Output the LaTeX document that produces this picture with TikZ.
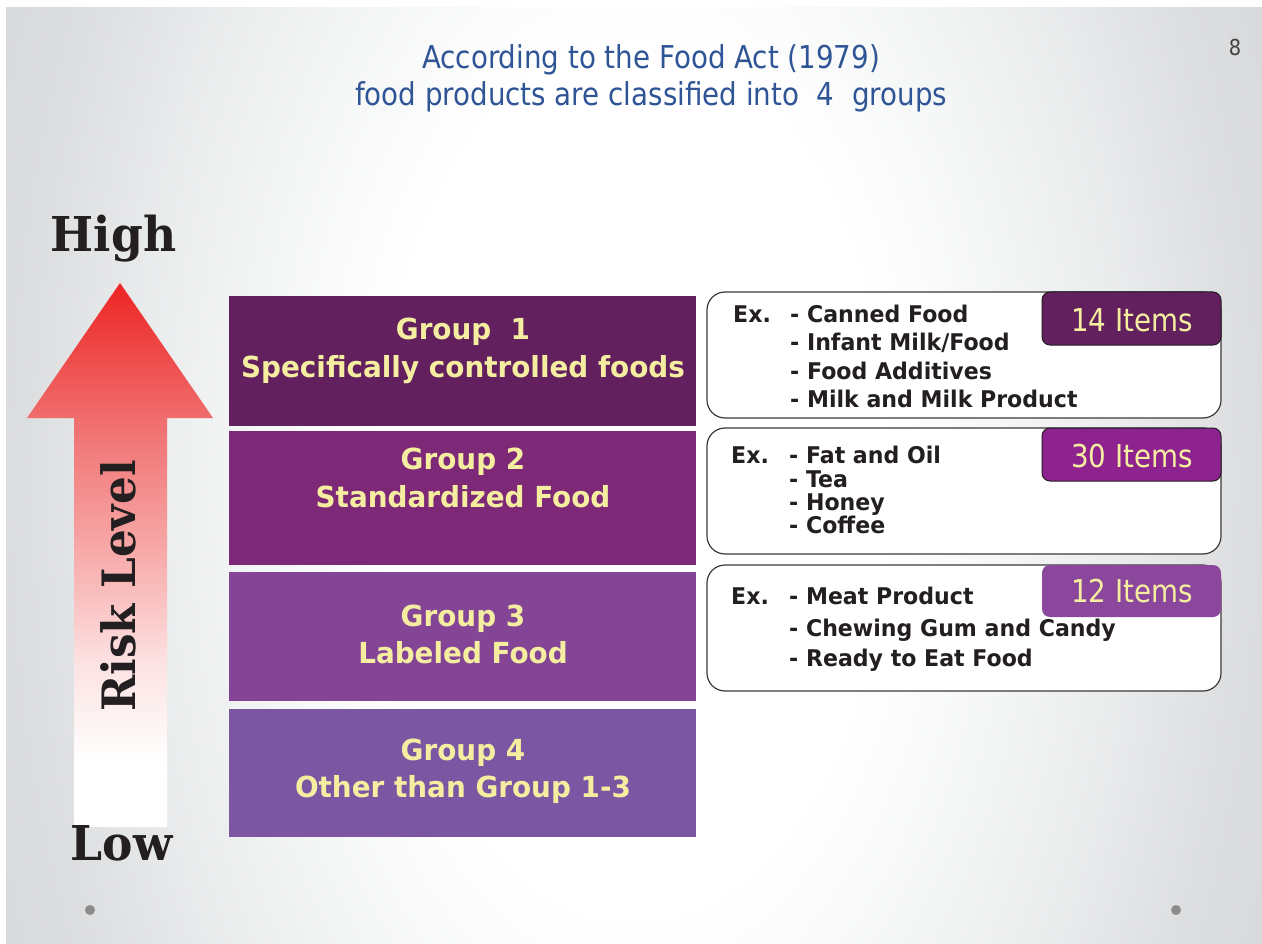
\documentclass[tikz,border=0pt]{standalone}
\usepackage{fontspec}
\newfontfamily\tah[FakeStretch=0.88]{DejaVu Sans}
\newfontfamily\tahb[FakeStretch=0.96]{DejaVu Sans}
\newfontfamily\serifbf[FakeStretch=0.95]{DejaVu Serif}
\definecolor{titleblue}{HTML}{2F5597}
\definecolor{gA}{HTML}{62205F}
\definecolor{gB}{HTML}{7E2878}
\definecolor{gC}{HTML}{844597}
\definecolor{gD}{HTML}{7B56A3}
\definecolor{bdgB}{HTML}{8E2390}
\definecolor{bdgC}{HTML}{8A479C}
\definecolor{creamtxt}{HTML}{F5EEA0}
\definecolor{inktxt}{HTML}{231F20}
\definecolor{bgA}{HTML}{F6F7F7}
\definecolor{bgM}{HTML}{E9EAEB}
\definecolor{bgB}{HTML}{DCDDDF}
\definecolor{bgC}{HTML}{D8D9DB}
\definecolor{redA}{HTML}{ED2424}
\definecolor{redB}{HTML}{F07070}
\definecolor{redC}{HTML}{F8ABAB}
\definecolor{redD}{HTML}{FCE2E2}
\definecolor{dotgrey}{HTML}{8C8C8C}
\definecolor{boxline}{HTML}{3A3A3A}
\pgfdeclareradialshading{slidebg}{\pgfpoint{0bp}{0bp}}{color(0bp)=(white); color(9bp)=(white); color(13bp)=(bgA); color(18bp)=(bgM); color(22bp)=(bgB); color(25bp)=(bgC); color(50bp)=(bgC)}
\pgfdeclareverticalshading{arrowsh}{100bp}{color(0bp)=(white); color(31bp)=(white); color(40bp)=(redD); color(50bp)=(redC); color(62bp)=(redB); color(75bp)=(redA); color(100bp)=(redA)}
\tikzset{
  title/.style={font=\tah\fontsize{31.5}{36}\selectfont, text=titleblue, inner sep=0pt},
  grouptxt/.style={font=\tahb\bfseries\fontsize{29}{34}\selectfont, text=creamtxt, inner sep=0pt, anchor=base},
  itemtxt/.style={font=\tahb\bfseries\fontsize{23}{27}\selectfont, text=inktxt, inner sep=0pt, anchor=base west},
  badgetxt/.style={font=\tah\fontsize{31.5}{36}\selectfont, text=creamtxt, inner sep=0pt, anchor=base},
  risktxt/.style={font=\serifbf\bfseries\fontsize{48}{56}\selectfont, text=inktxt, inner sep=0pt, anchor=base},
  exbox/.style={fill=white, draw=boxline, line width=1.2pt, rounded corners=18pt},
  badge/.style={rounded corners=8pt, line width=1pt},
}
\begin{document}
\begin{tikzpicture}[x=1pt,y=-1pt]
\useasboundingbox (0,0) rectangle (1262,944);
\fill[white] (0,0) rectangle (1262,944);
\begin{scope}
  \clip (6,8) rectangle (1262,944);
  \shade[shading=slidebg] (634,480) ellipse [x radius=700pt, y radius=1200pt];
\end{scope}

% title
\node[title, anchor=base] (t1) at (651,69) {According to the Food Act (1979)};
\node[title, anchor=base] (t2) at (651,106) {food products are classified into\ \ 4\ \ groups};
\node[font=\tah\fontsize{22}{24}\selectfont, text=inktxt!85, inner sep=0pt] (pg) at (1235,47) {8};

% risk arrow
\shade[shading=arrowsh] (120,283) -- (213,418) -- (167,418) -- (167,827) -- (74,827) -- (74,418) -- (27,418) -- cycle;
\node[risktxt] (high) at (113.5,252) {High};
\node[risktxt] (low) at (121.5,860) {Low};
\node[risktxt, font=\serifbf\bfseries\fontsize{46}{52}\selectfont, rotate=90] (risk) at (135,586) {Risk Level};

% group boxes
\fill[gA] (229,296) rectangle (696,426);
\fill[gB] (229,431) rectangle (696,565);
\fill[gC] (229,572) rectangle (696,701);
\fill[gD] (229,709) rectangle (696,837);
\node[grouptxt] (g1a) at (463,339) {Group\ \ 1};
\node[grouptxt] (g1b) at (463,377) {Specifically controlled foods};
\node[grouptxt] (g2a) at (463,469) {Group 2};
\node[grouptxt] (g2b) at (463,507) {Standardized Food};
\node[grouptxt] (g3a) at (463,626) {Group 3};
\node[grouptxt] (g3b) at (463,663) {Labeled Food};
\node[grouptxt] (g4a) at (463,760) {Group 4};
\node[grouptxt] (g4b) at (463,797) {Other than Group 1-3};

% example boxes
\path[exbox] (707,292) rectangle (1221,418);
\path[exbox] (707,428) rectangle (1221,554);
\path[exbox] (707,565) rectangle (1221,691);
\path[badge, fill=gA, draw=inktxt] (1042,292) rectangle (1221,345);
\path[badge, fill=bdgB, draw=inktxt] (1042,428) rectangle (1221,481);
\path[badge, fill=bdgC] (1042,565) rectangle (1221,617);
\node[badgetxt] (n1) at (1132,331) {14 Items};
\node[badgetxt] (n2) at (1132,467) {30 Items};
\node[badgetxt] (n3) at (1132,602) {12 Items};

\node[itemtxt] (e1) at (733,323) {Ex.};
\node[itemtxt] (e1a) at (790,323) {- Canned Food};
\node[itemtxt] (e1b) at (790,351) {- Infant Milk/Food};
\node[itemtxt] (e1c) at (790,379) {- Food Additives};
\node[itemtxt] (e1d) at (790,407) {- Milk and Milk Product};

\node[itemtxt] (e2) at (731,463) {Ex.};
\node[itemtxt] (e2a) at (789,463) {- Fat and Oil};
\node[itemtxt] (e2b) at (789,487) {- Tea};
\node[itemtxt] (e2c) at (789,510) {- Honey};
\node[itemtxt] (e2d) at (789,533) {- Coffee};

\node[itemtxt] (e3) at (731,604) {Ex.};
\node[itemtxt] (e3a) at (789,604) {- Meat Product};
\node[itemtxt] (e3b) at (789,636) {- Chewing Gum and Candy};
\node[itemtxt] (e3c) at (789,666) {- Ready to Eat Food};

% dots
\fill[dotgrey] (90,910) circle (5pt);
\fill[dotgrey] (1176,910) circle (5pt);
\end{tikzpicture}
\end{document}
